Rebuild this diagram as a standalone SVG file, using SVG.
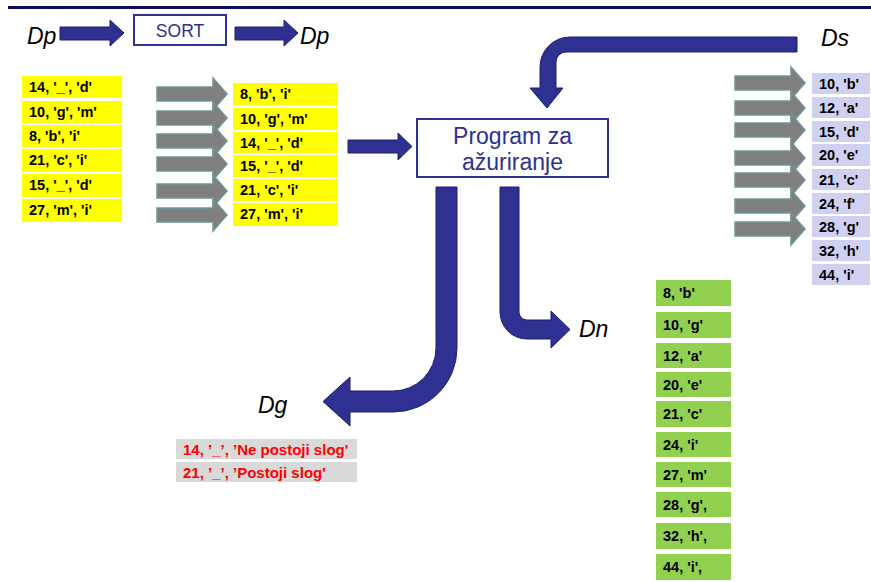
<svg xmlns="http://www.w3.org/2000/svg" xmlns:xlink="http://www.w3.org/1999/xlink" width="871" height="582" viewBox="0 0 871 582">
<style>
.lbl{font-family:"Liberation Sans",Arial,sans-serif;font-style:italic;font-size:23px;fill:#000}
.box{fill:#fff;stroke:#2e3192;stroke-width:2}
.btx{font-family:"Liberation Sans",Arial,sans-serif;fill:#2e3192;text-anchor:middle}
.row{font-family:"Liberation Sans",Arial,sans-serif;font-weight:bold;font-size:14.5px;fill:#000}
.red{font-family:"Liberation Sans",Arial,sans-serif;font-weight:bold;font-size:15px;fill:#ff0000}
.y{fill:#ffff00}.l{fill:#d0d0f0}.g{fill:#92d050}.gr{fill:#d9d9d9}
.nav{fill:#2e3192;stroke:#1f2068;stroke-width:1}
.ga{fill:#7f7f7f;stroke:#6f9696;stroke-width:1.5}
</style>
<defs>
<path id="garr" d="M0,-7 H56 V-16 L70,0 L56,16 V7 H0 Z"/>
</defs>
<line x1="8" y1="7.5" x2="871" y2="7.5" stroke="#0d0d5e" stroke-width="3"/>

<g id="connectors">
<path class="nav" d="M60,27 H110 V20 L124,33 L110,46 V40 H60 Z"/>
<path class="nav" d="M235,27 H284 V20 L298,33 L284,46 V40 H235 Z"/>
<path class="nav" d="M348,140 H398 V133 L412,146.5 L398,160 V153 H348 Z"/>
<path class="nav" d="M797,37 V52 H566 A10,10 0 0 0 556,62 V88 H563 L547,108 L530,88 H540 V67 A30,30 0 0 1 570,37 Z"/>
<path class="nav" d="M436,187 H457 V348 A64,64 0 0 1 393,412 H350 V426 L323,401.5 L350,377 V391 H393 A43,43 0 0 0 436,348 Z"/>
<path class="nav" d="M500,187 H519 V312 A8,8 0 0 0 527,320 H551 V311 L570,329.5 L551,348 V339 H527 A27,27 0 0 1 500,312 Z"/>
<g class="ga">
<use xlink:href="#garr" x="157" y="94"/>
<use xlink:href="#garr" x="157" y="118"/>
<use xlink:href="#garr" x="157" y="141"/>
<use xlink:href="#garr" x="157" y="164"/>
<use xlink:href="#garr" x="157" y="191"/>
<use xlink:href="#garr" x="157" y="215"/>
<use xlink:href="#garr" x="735" y="83"/>
<use xlink:href="#garr" x="735" y="108"/>
<use xlink:href="#garr" x="735" y="130"/>
<use xlink:href="#garr" x="735" y="158"/>
<use xlink:href="#garr" x="735" y="180"/>
<use xlink:href="#garr" x="735" y="206"/>
<use xlink:href="#garr" x="735" y="229"/>
</g>
</g>

<g id="labels">
<text class="lbl" x="27" y="44">Dp</text>
<text class="lbl" x="300" y="44">Dp</text>
<text class="lbl" x="821" y="46">Ds</text>
<text class="lbl" x="579" y="337">Dn</text>
<text class="lbl" x="258" y="413">Dg</text>
</g>

<g id="sort">
<rect class="box" x="134" y="15" width="92" height="30"/>
<text class="btx" x="180" y="37" font-size="17.5">SORT</text>
</g>

<g id="program">
<rect class="box" x="417" y="119" width="191" height="58"/>
<text class="btx" x="512.5" y="144" font-size="23">Program za</text>
<text class="btx" x="512.5" y="170" font-size="23">ažuriranje</text>
</g>

<g id="dp-unsorted">
<rect class="y" x="22" y="76" width="100" height="22"/><text class="row" x="29" y="92">14, '_', 'd'</text>
<rect class="y" x="22" y="101" width="100" height="22"/><text class="row" x="29" y="117">10, 'g', 'm'</text>
<rect class="y" x="22" y="125" width="100" height="22"/><text class="row" x="29" y="141">8, 'b', 'i'</text>
<rect class="y" x="22" y="149" width="100" height="23"/><text class="row" x="29" y="165">21, 'c', 'i'</text>
<rect class="y" x="22" y="174" width="100" height="23"/><text class="row" x="29" y="190">15, '_', 'd'</text>
<rect class="y" x="22" y="199" width="100" height="23"/><text class="row" x="29" y="215">27, 'm', 'i'</text>
</g>

<g id="dp-sorted">
<rect class="y" x="233" y="83" width="105" height="22"/><text class="row" x="240" y="99">8, 'b', 'i'</text>
<rect class="y" x="233" y="108" width="105" height="22"/><text class="row" x="240" y="124">10, 'g', 'm'</text>
<rect class="y" x="233" y="132" width="105" height="21"/><text class="row" x="240" y="148">14, '_', 'd'</text>
<rect class="y" x="233" y="155" width="105" height="22"/><text class="row" x="240" y="171">15, '_', 'd'</text>
<rect class="y" x="233" y="179" width="105" height="22"/><text class="row" x="240" y="195">21, 'c', 'i'</text>
<rect class="y" x="233" y="203" width="105" height="23"/><text class="row" x="240" y="219">27, 'm', 'i'</text>
</g>

<g id="ds">
<rect class="l" x="812" y="73" width="58" height="21"/><text class="row" x="819" y="89">10, 'b'</text>
<rect class="l" x="812" y="97" width="58" height="21"/><text class="row" x="819" y="113">12, 'a'</text>
<rect class="l" x="812" y="121" width="58" height="21"/><text class="row" x="819" y="137">15, 'd'</text>
<rect class="l" x="812" y="144" width="58" height="22"/><text class="row" x="819" y="160">20, 'e'</text>
<rect class="l" x="812" y="169" width="58" height="21"/><text class="row" x="819" y="185">21, 'c'</text>
<rect class="l" x="812" y="193" width="58" height="21"/><text class="row" x="819" y="209">24, 'f'</text>
<rect class="l" x="812" y="216" width="58" height="21"/><text class="row" x="819" y="232">28, 'g'</text>
<rect class="l" x="812" y="240" width="58" height="21"/><text class="row" x="819" y="256">32, 'h'</text>
<rect class="l" x="812" y="264" width="58" height="21"/><text class="row" x="819" y="280">44, 'i'</text>
</g>

<g id="dn">
<rect class="g" x="656" y="280" width="75" height="26"/><text class="row" x="663" y="298">8, 'b'</text>
<rect class="g" x="656" y="312" width="75" height="26"/><text class="row" x="663" y="330">10, 'g'</text>
<rect class="g" x="656" y="343" width="75" height="25"/><text class="row" x="663" y="361">12, 'a'</text>
<rect class="g" x="656" y="372" width="75" height="25"/><text class="row" x="663" y="390">20, 'e'</text>
<rect class="g" x="656" y="401" width="75" height="26"/><text class="row" x="663" y="419">21, 'c'</text>
<rect class="g" x="656" y="432" width="75" height="25"/><text class="row" x="663" y="450">24, 'i'</text>
<rect class="g" x="656" y="462" width="75" height="25"/><text class="row" x="663" y="480">27, 'm'</text>
<rect class="g" x="656" y="492" width="75" height="25"/><text class="row" x="663" y="510">28, 'g',</text>
<rect class="g" x="656" y="523" width="75" height="26"/><text class="row" x="663" y="541">32, 'h',</text>
<rect class="g" x="656" y="554" width="75" height="26"/><text class="row" x="663" y="572">44, 'i',</text>
</g>

<g id="dg">
<rect class="gr" x="176" y="439" width="181" height="20"/><text class="red" x="183" y="455">14, ’_’, ’Ne postoji slog'</text>
<rect class="gr" x="176" y="462" width="181" height="20"/><text class="red" x="183" y="478">21, ’_’, ’Postoji slog'</text>
</g>
</svg>
